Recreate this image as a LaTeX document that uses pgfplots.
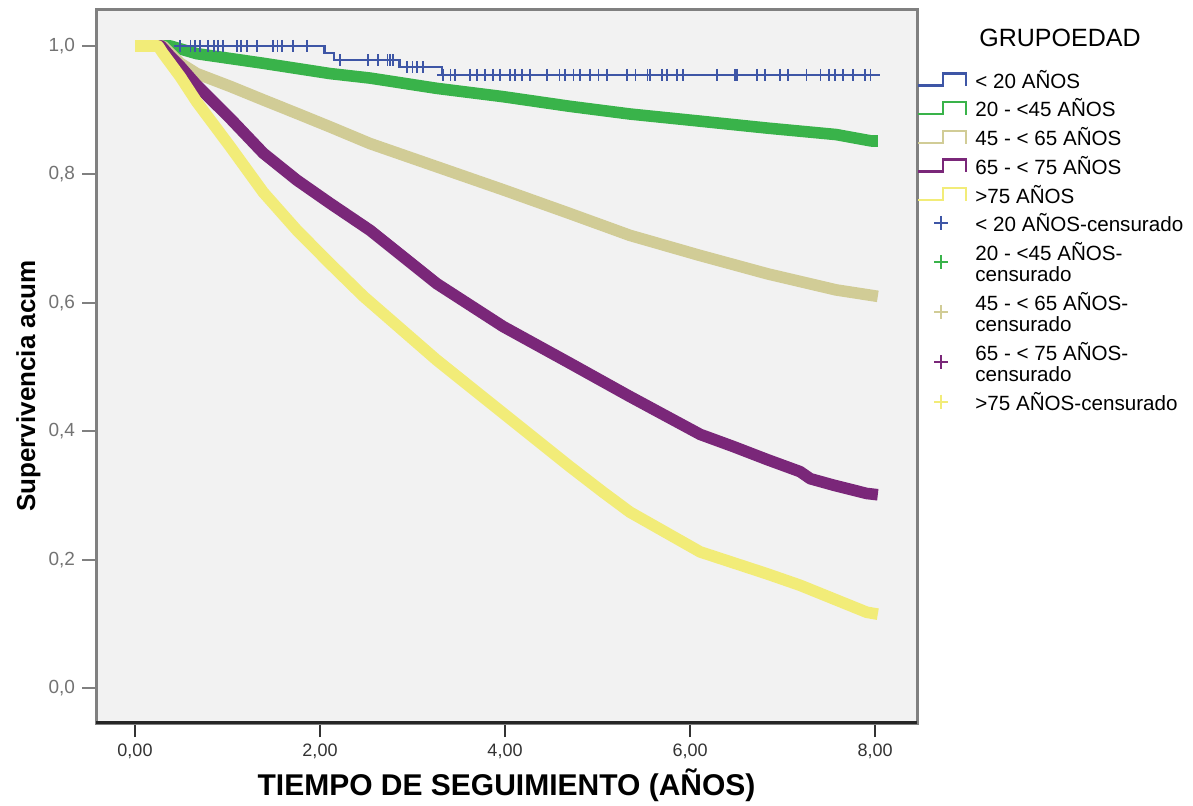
\documentclass[border=0pt]{standalone}
\usepackage{fontspec}
\setmainfont{Liberation Sans}
\usepackage{pgfplots}
\pgfplotsset{compat=1.18}
\definecolor{cblue}{RGB}{62,86,166}
\definecolor{cgreen}{RGB}{57,179,74}
\definecolor{ctan}{RGB}{209,204,150}
\definecolor{cpurple}{RGB}{122,39,121}
\definecolor{cyellow}{RGB}{242,236,120}
\definecolor{bg}{RGB}{242,242,242}
\pgfplotsset{
 steplegend/.style={legend image code/.code={\draw[##1,line width=1.2pt] (0pt,-3pt) -- (12.5pt,-3pt) -- (12.5pt,3pt) -- (24pt,3pt) -- (24pt,-3.5pt);}},
 marklegend/.style={legend image code/.code={\path[draw=none,fill=none] (0pt,-3pt) rectangle (24pt,3pt); \draw[##1] plot coordinates {(11.5pt,0pt)};}},
}
\newcommand{\lone}[1]{\parbox[c][14.35pt][c]{110pt}{#1}}
\newcommand{\ltwo}[2]{\parbox[c][25pt][c]{110pt}{\baselineskip=10.5pt #1\newline #2}}
\begin{document}
\begin{tikzpicture}
\useasboundingbox (0,0) rectangle (596.5pt,402.5pt);
\begin{axis}[
 at={(48pt,41pt)}, anchor=south west,
 scale only axis, width=410.5pt, height=356.5pt,
 xmin=-0.4216, xmax=8.454, ymin=-0.0545, ymax=1.056,
 axis background/.style={fill=bg},
 axis line style={draw=black!50, line width=1.5pt},
 xtick={0,2,4,6,8}, ytick={0,0.2,0.4,0.6,0.8,1},
 xtick pos=bottom, ytick pos=left,
 tick align=outside, major tick length=7pt,
 /pgf/number format/assume math mode=true,
 xticklabel style={font=\fontsize{9}{10}\selectfont, text=black!80, /pgf/number format/fixed, /pgf/number format/fixed zerofill, /pgf/number format/precision=2, /pgf/number format/use comma},
 yticklabel style={font=\fontsize{9.5}{10}\selectfont, text=black!55, /pgf/number format/fixed, /pgf/number format/fixed zerofill, /pgf/number format/precision=1, /pgf/number format/use comma},
 xtick style={black!80, line width=1pt},
 ytick style={black!50, line width=1pt},
 xlabel={TIEMPO DE SEGUIMIENTO (AÑOS)},
 xlabel style={font=\bfseries\fontsize{15}{16}\selectfont, at={(axis description cs:0.5,-0.087)}, anchor=center},
 ylabel={Supervivencia acum},
 ylabel style={font=\bfseries\fontsize{13}{14}\selectfont, at={(axis description cs:-0.0822,0.4727)}, anchor=center},
 legend cell align=left,
 legend style={at={(1,0.9229)}, anchor=north west, draw=none, fill=none, inner sep=0pt, outer sep=0pt, row sep=0pt, column sep=4pt, font=\fontsize{10.3}{10.5}\selectfont, nodes={inner sep=0pt, text depth={}}},
]
% lines (under)
\addplot[cblue, line width=1.2pt, const plot, forget plot] coordinates {(0,1) (2.05,0.989) (2.15,0.978) (2.86,0.967) (3.32,0.955) (8.05,0.955)};
\addplot[cgreen, line width=5.8pt, line join=round, forget plot] coordinates {(0,1) (0.38,1) (0.667,0.988) (1.387,0.973) (2.108,0.957) (2.54,0.950) (3.26,0.934) (3.98,0.921) (4.70,0.906) (5.35,0.894) (6.10,0.883) (6.84,0.872) (7.58,0.862) (7.96,0.852) (8.03,0.852)};
\addplot[ctan, line width=5.8pt, line join=round, forget plot] coordinates {(0,1) (0.3,1) (0.49,0.973) (0.667,0.957) (1.03,0.937) (1.387,0.916) (1.75,0.895) (2.108,0.874) (2.54,0.848) (3.26,0.812) (3.98,0.776) (4.70,0.739) (5.35,0.705) (6.10,0.674) (6.84,0.645) (7.58,0.620) (8.03,0.610)};
\addplot[cpurple, line width=5.8pt, line join=round, forget plot] coordinates {(0,1) (0.28,1) (0.38,0.984) (0.49,0.968) (0.667,0.939) (1.03,0.887) (1.387,0.833) (1.75,0.791) (2.108,0.755) (2.54,0.713) (3.26,0.630) (3.98,0.563) (4.70,0.506) (5.35,0.454) (6.11,0.395) (6.47,0.376) (6.83,0.356) (7.19,0.337) (7.30,0.326) (7.55,0.316) (7.91,0.303) (8.03,0.301)};
\addplot[cyellow, line width=5.8pt, line join=round, forget plot] coordinates {(0,1) (0.25,1) (0.30,0.989) (0.49,0.952) (0.667,0.913) (1.03,0.843) (1.387,0.772) (1.75,0.713) (2.108,0.661) (2.47,0.610) (3.26,0.511) (3.98,0.428) (4.70,0.345) (5.06,0.305) (5.35,0.274) (6.11,0.212) (6.47,0.195) (6.83,0.178) (7.19,0.160) (7.55,0.139) (7.91,0.118) (8.03,0.115)};
% blue on top
\addplot[cblue, line width=1.2pt, const plot, forget plot] coordinates {(0.45,1) (2.05,0.989) (2.15,0.978) (2.86,0.967) (3.32,0.955) (8.05,0.955)};
\addplot[cblue, only marks, mark=+, mark size=3pt, line width=0.9pt, forget plot] coordinates {
(0.49,1) (0.6,1) (0.65,1) (0.7,1) (0.79,1) (0.85,1) (0.9,1) (0.95,1) (1.1,1) (1.15,1) (1.21,1) (1.32,1) (1.49,1) (1.54,1) (1.59,1) (1.71,1) (1.86,1)
(2.22,0.978) (2.52,0.978) (2.63,0.978) (2.73,0.978) (2.76,0.978) (2.79,0.978)
(2.94,0.967) (3.0,0.967) (3.05,0.967) (3.11,0.967)
(3.33,0.955) (3.41,0.955) (3.46,0.955) (3.62,0.955) (3.70,0.955) (3.78,0.955) (3.87,0.955) (3.95,0.955) (4.05,0.955) (4.11,0.955) (4.18,0.955) (4.27,0.955) (4.45,0.955) (4.59,0.955) (4.65,0.955) (4.74,0.955) (4.81,0.955) (4.92,0.955) (5.01,0.955) (5.10,0.955) (5.32,0.955) (5.41,0.955) (5.54,0.955) (5.57,0.955) (5.70,0.955) (5.75,0.955) (5.86,0.955) (5.92,0.955) (6.29,0.955) (6.49,0.955) (6.51,0.955) (6.72,0.955) (6.81,0.955) (6.97,0.955) (7.06,0.955) (7.26,0.955) (7.41,0.955) (7.50,0.955) (7.57,0.955) (7.65,0.955) (7.76,0.955) (7.89,0.955) (7.95,0.955)};
% legend
\addlegendimage{steplegend, cblue}\addlegendentry{\lone{< 20 AÑOS}}
\addlegendimage{steplegend, cgreen}\addlegendentry{\lone{20 - <45 AÑOS}}
\addlegendimage{steplegend, ctan}\addlegendentry{\lone{45 - < 65 AÑOS}}
\addlegendimage{steplegend, cpurple}\addlegendentry{\lone{65 - < 75 AÑOS}}
\addlegendimage{steplegend, cyellow}\addlegendentry{\lone{>75 AÑOS}}
\addlegendimage{marklegend, only marks, mark=+, mark size=3.5pt, line width=1pt, cblue}\addlegendentry{\lone{< 20 AÑOS-censurado}}
\addlegendimage{marklegend, only marks, mark=+, mark size=3.5pt, line width=1pt, cgreen}\addlegendentry{\ltwo{20 - <45 AÑOS-}{censurado}}
\addlegendimage{marklegend, only marks, mark=+, mark size=3.5pt, line width=1pt, ctan}\addlegendentry{\ltwo{45 - < 65 AÑOS-}{censurado}}
\addlegendimage{marklegend, only marks, mark=+, mark size=3.5pt, line width=1pt, cpurple}\addlegendentry{\ltwo{65 - < 75 AÑOS-}{censurado}}
\addlegendimage{marklegend, only marks, mark=+, mark size=3.5pt, line width=1pt, cyellow}\addlegendentry{\lone{>75 AÑOS-censurado}}
\draw[black!85, line width=2pt] (rel axis cs:0,0) -- (rel axis cs:1,0);
\end{axis}
\node[font=\fontsize{12.5}{13}\selectfont] at (530pt,383.4pt) {GRUPOEDAD};
\end{tikzpicture}
\end{document}
